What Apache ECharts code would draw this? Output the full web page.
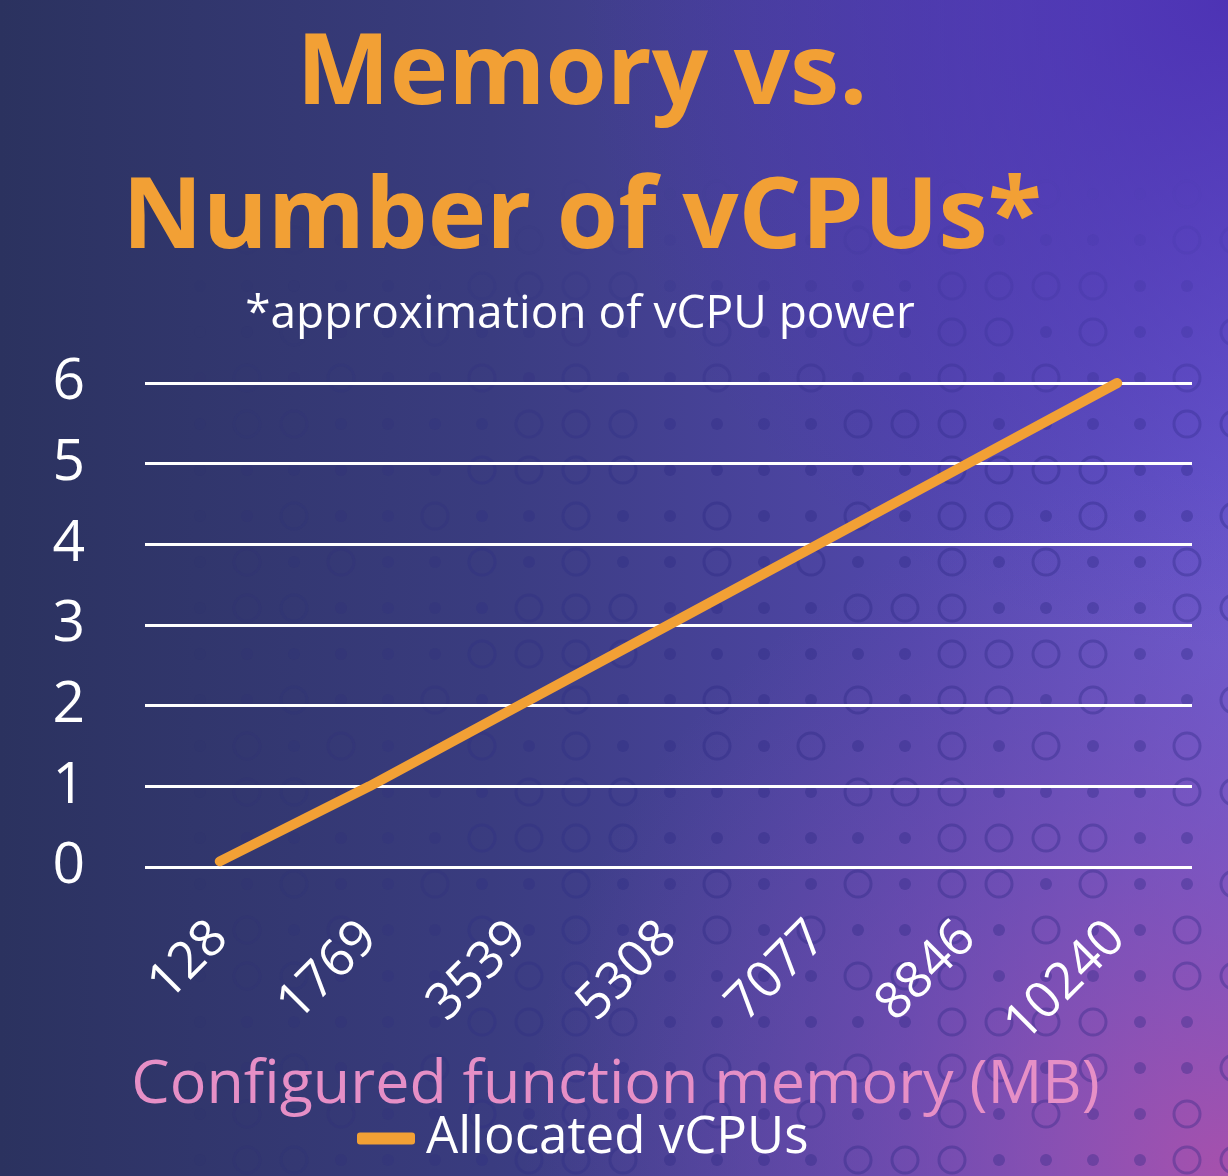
<!DOCTYPE html>
<html>
<head>
<meta charset="utf-8">
<script src="https://cdn.jsdelivr.net/npm/echarts@6/dist/echarts.min.js"></script>
<style>
html,body{margin:0;padding:0;background:#2c3461;}
#chart{width:1228px;height:1176px;}
</style>
</head>
<body>
<div id="chart"></div>
<script>
const categories = ['128', '1769', '3539', '5308', '7077', '8846', '10240'];
const vcpus = [0.07, 1, 2, 3, 4, 5, 6];
const seriesName = 'Allocated vCPUs';
const titleText = 'Memory vs.\nNumber of vCPUs*';
const subtitleText = '*approximation of vCPU power';
const xAxisName = 'Configured function memory (MB)';

const FONT = '"Open Sans", "Noto Sans", sans-serif';
const W = 1228, H = 1176;

// decorative background: gradient + faint ring/dot texture
const bg = [
  { type: 'rect', z: -100, silent: true, shape: { x: 0, y: 0, width: W, height: H },
    style: { fill: new echarts.graphic.LinearGradient(0, 0, 1, 0, [
      { offset: 0, color: '#2b325f' },
      { offset: 0.4, color: '#3a3c80' },
      { offset: 0.75, color: '#5247ac' },
      { offset: 1, color: '#6a5bcf' }
    ]) } },
  { type: 'rect', z: -99, silent: true, shape: { x: 0, y: 0, width: W, height: H },
    style: { fill: new echarts.graphic.RadialGradient(1, 0, 0.55, [
      { offset: 0, color: 'rgba(72,44,176,0.85)' },
      { offset: 1, color: 'rgba(72,44,176,0)' }
    ]) } },
  { type: 'rect', z: -98, silent: true, shape: { x: 0, y: 0, width: W, height: H },
    style: { fill: new echarts.graphic.RadialGradient(1, 1, 0.6, [
      { offset: 0, color: 'rgba(170,80,170,0.95)' },
      { offset: 0.5, color: 'rgba(140,80,180,0.45)' },
      { offset: 1, color: 'rgba(120,80,180,0)' }
    ]) } }
];
const texture = [];
for (let r = 0; r < 26; r++) {
  for (let c = 0; c < 27; c++) {
    const cx = 12 + c * 47, cy = 10 + r * 46;
    const ax = Math.max(0, Math.min(1, (cx - 150) / 560));
    const ay = Math.max(0, Math.min(1, (cy - 180) / 280));
    const a = 0.34 * ax * ay;
    if (a <= 0.01) continue;
    const ring = ((r * 5 + c * 3 + ((r * c) % 4)) % 5) < 2;
    texture.push(ring
      ? { type: 'circle', z: -97, silent: true, shape: { cx: cx, cy: cy, r: 13 },
          style: { fill: 'none', stroke: 'rgba(40,38,130,' + a.toFixed(3) + ')', lineWidth: 3 } }
      : { type: 'circle', z: -97, silent: true, shape: { cx: cx, cy: cy, r: 6 },
          style: { fill: 'rgba(40,38,130,' + a.toFixed(3) + ')' } });
  }
}

const chart = echarts.init(document.getElementById('chart'));
chart.setOption({
  animation: false,
  graphic: bg.concat(texture),
  title: [
    { text: titleText, left: 577, top: -1, textAlign: 'center',
      textStyle: { color: '#f2a035', fontSize: 99, fontWeight: 'bold', fontFamily: FONT, lineHeight: 144 } },
    { text: subtitleText, left: 575, top: 287, textAlign: 'center',
      textStyle: { color: '#ffffff', fontSize: 46, fontWeight: 'normal', fontFamily: FONT } }
  ],
  legend: {
    left: 352, top: 1108,
    icon: 'roundRect', itemWidth: 58, itemHeight: 12, itemGap: 10,
    textStyle: { color: '#ffffff', fontSize: 51, fontFamily: FONT, padding: [0, 0, 0, 6] },
    data: [seriesName]
  },
  grid: { left: 145, right: 36, top: 383, bottom: 309, containLabel: false },
  xAxis: {
    type: 'category', data: categories, boundaryGap: true,
    axisLine: { show: false }, axisTick: { show: false },
    axisLabel: { color: '#ffffff', fontSize: 51, fontFamily: FONT, rotate: 45, margin: 63, interval: 0 },
    name: xAxisName, nameLocation: 'middle', nameGap: 188,
    nameTextStyle: { color: '#e68fc6', fontSize: 61, fontFamily: FONT, padding: [0, 106, 0, 0] }
  },
  yAxis: {
    type: 'value', min: 0, max: 6, interval: 1,
    axisLine: { show: false }, axisTick: { show: false },
    axisLabel: { color: '#ffffff', fontSize: 57, fontFamily: FONT, margin: 60 },
    splitLine: { lineStyle: { color: '#ffffff', width: 3 } }
  },
  series: [{
    name: seriesName, type: 'line', data: vcpus,
    symbol: 'none', lineStyle: { color: '#f2a035', width: 10, cap: 'round' },
    itemStyle: { color: '#f2a035' }
  }]
});
</script>
</body>
</html>
